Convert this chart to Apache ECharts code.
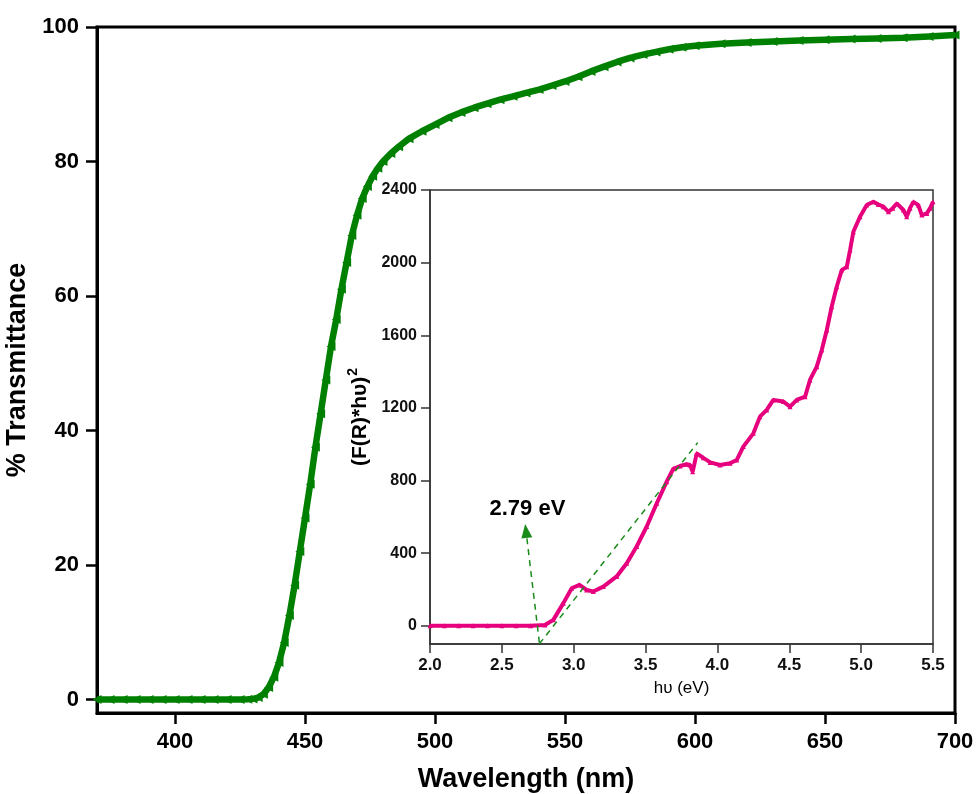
<!DOCTYPE html>
<html>
<head>
<meta charset="utf-8">
<script src="https://cdn.jsdelivr.net/npm/echarts@6/dist/echarts.min.js"></script>
<style>html,body{margin:0;padding:0;background:#fff}#c{width:976px;height:794px}</style>
</head>
<body>
<div id="c"></div>
<script>
// Main spectrum: wavelength (nm) vs % transmittance
const wavelength = [370,375,380,385,390,395,400,405,410,415,420,425,428,430,432,434,436,438,440,442,444,446,448,450,452,454,456,458,460,462,464,466,468,470,472,474,476,478,480,483,486,490,495,500,505,510,515,520,525,530,535,540,545,550,555,560,565,570,575,580,585,590,595,600,610,620,630,640,650,660,670,680,690,700];
const transmittance = [0,0,0,0,0,0,0,0,0,0,0,0,0.05,0.1,0.3,0.8,1.8,3.3,5.5,8.5,12.5,17,22,27,32,37.5,42.5,47.5,52.5,56.5,61,65,69,72,74.5,76.3,77.8,79,80,81.2,82.2,83.4,84.5,85.5,86.5,87.3,88,88.6,89.2,89.7,90.2,90.7,91.3,91.9,92.6,93.4,94.1,94.8,95.4,95.9,96.3,96.7,97.0,97.2,97.5,97.7,97.85,98,98.1,98.2,98.3,98.4,98.6,98.8];
const mainXTicks = [400,450,500,550,600,650,700];
const mainYTicks = [0,20,40,60,80,100];

// Inset: Tauc plot
const energy = [2.0,2.1,2.2,2.3,2.4,2.5,2.6,2.7,2.8,2.858,2.928,2.986,3.04,3.09,3.136,3.206,3.299,3.369,3.438,3.508,3.578,3.647,3.693,3.74,3.786,3.809,3.828,3.856,3.902,3.95,4.018,4.088,4.134,4.18,4.25,4.296,4.343,4.389,4.459,4.505,4.552,4.61,4.644,4.691,4.726,4.761,4.795,4.83,4.865,4.9,4.923,4.946,4.992,5.039,5.085,5.12,5.155,5.19,5.22,5.248,5.294,5.317,5.34,5.363,5.398,5.422,5.457,5.48,5.5];
const tauc = [0,0,0,0,0,0,0,0,5,33,125,207,226,198,189,216,272,345,437,547,675,794,865,880,890,886,849,950,925,900,886,895,913,987,1060,1152,1189,1244,1235,1207,1244,1262,1354,1427,1519,1629,1757,1867,1959,1977,2069,2170,2253,2317,2335,2320,2308,2280,2300,2326,2290,2253,2300,2335,2317,2262,2271,2300,2335];
const insetXTicks = [2.0,2.5,3.0,3.5,4.0,4.5,5.0,5.5];
const insetYTicks = [0,400,800,1200,1600,2000,2400];
const tangentX = [2.761, 3.863];
const tangentY = [-99, 1009];
const arrowFrom = [2.761, -92];
const arrowTo = [2.668, 523];
const annotText = '2.79 eV';
const annotPos = [2.678, 644];

const FONT = "Arial, 'Liberation Sans', sans-serif";
const chart = echarts.init(document.getElementById('c'));

chart.setOption({
  animation: false,
  backgroundColor: '#fff',
  textStyle: { fontFamily: FONT },
  grid: [
    { left: 97, right: 21, top: 27, bottom: 81, show: true, borderColor: '#000', borderWidth: 3, containLabel: false, outerBoundsMode: 'none' },
    { left: 430, right: 43, top: 190, bottom: 150, show: true, borderColor: '#333', borderWidth: 1.5, backgroundColor: '#fff', containLabel: false, outerBoundsMode: 'none' }
  ],
  xAxis: [
    {
      gridIndex: 0, type: 'value', min: 370, max: 700,
      name: 'Wavelength (nm)', nameLocation: 'middle', nameGap: 53,
      nameTextStyle: { fontSize: 27, fontWeight: 'bold', color: '#000', fontFamily: FONT },
      axisLine: { show: true, onZero: false, lineStyle: { color: '#000', width: 3 } },
      axisTick: { show: true, length: 11, inside: false, lineStyle: { color: '#000', width: 2.5 }, customValues: mainXTicks },
      axisLabel: { margin: 18, fontSize: 22, fontWeight: 'bold', color: '#000', fontFamily: FONT, customValues: mainXTicks },
      splitLine: { show: false }
    },
    {
      gridIndex: 1, type: 'value', min: 2, max: 5.5, interval: 0.5,
      name: 'hυ (eV)', nameLocation: 'middle', nameGap: 36,
      nameTextStyle: { fontSize: 17, color: '#000', fontFamily: FONT },
      axisLine: { show: true, onZero: false, lineStyle: { color: '#333', width: 1.5 } },
      axisTick: { show: true, length: 9, inside: false, lineStyle: { color: '#333', width: 1.5 }, customValues: insetXTicks },
      axisLabel: { margin: 13, fontSize: 17, fontWeight: 'bold', color: '#111', fontFamily: FONT, customValues: insetXTicks, formatter: v => Number(v).toFixed(1) },
      splitLine: { show: false }
    }
  ],
  yAxis: [
    {
      gridIndex: 0, type: 'value', min: -2, max: 100,
      name: '% Transmittance', nameLocation: 'middle', nameGap: 55,
      nameTextStyle: { fontSize: 27, fontWeight: 'bold', color: '#000', fontFamily: FONT },
      axisLine: { show: true, onZero: false, lineStyle: { color: '#000', width: 3 } },
      axisTick: { show: true, length: 11, inside: false, lineStyle: { color: '#000', width: 2.5 }, customValues: mainYTicks },
      axisLabel: { margin: 18, fontSize: 22, fontWeight: 'bold', color: '#000', fontFamily: FONT, customValues: mainYTicks },
      splitLine: { show: false }
    },
    {
      gridIndex: 1, type: 'value', min: -100, max: 2400,
      name: '{a|(F(R)*hυ)}{b|2}', nameLocation: 'middle', nameGap: 46,
      nameTextStyle: {
        fontFamily: FONT, color: '#000',
        rich: {
          a: { fontSize: 21, fontWeight: 'bold', fontFamily: FONT, color: '#000' },
          b: { fontSize: 14, fontWeight: 'bold', fontFamily: FONT, color: '#000', padding: [0, 0, 14, 1] }
        }
      },
      axisLine: { show: true, onZero: false, lineStyle: { color: '#333', width: 1.5 } },
      axisTick: { show: true, length: 9, inside: false, lineStyle: { color: '#333', width: 1.5 }, customValues: insetYTicks },
      axisLabel: { margin: 13, fontSize: 16, fontWeight: 'bold', color: '#111', fontFamily: FONT, customValues: insetYTicks, formatter: v => String(v) },
      splitLine: { show: false }
    }
  ],
  series: [
    {
      type: 'line', xAxisIndex: 0, yAxisIndex: 0,
      data: wavelength.map((w, i) => [w, transmittance[i]]),
      symbol: 'triangle', symbolSize: 9, symbolRotate: 90, showSymbol: true,
      lineStyle: { color: '#008000', width: 6.5 },
      itemStyle: { color: '#008000' },
      z: 3
    },
    {
      type: 'line', xAxisIndex: 1, yAxisIndex: 1,
      data: energy.map((e, i) => [e, tauc[i]]),
      symbol: 'triangle', symbolSize: 5, showSymbol: true,
      lineStyle: { color: '#e6007e', width: 4 },
      itemStyle: { color: '#e6007e' },
      z: 4
    },
    {
      type: 'line', xAxisIndex: 1, yAxisIndex: 1,
      data: tangentX.map((x, i) => [x, tangentY[i]]),
      showSymbol: false, symbol: 'none',
      lineStyle: { color: '#1a8a1a', width: 1.5, type: [6, 5] },
      z: 5
    },
    {
      type: 'scatter', xAxisIndex: 1, yAxisIndex: 1,
      data: [annotPos], symbolSize: 1,
      itemStyle: { opacity: 1, color: 'rgba(0,0,0,0)' },
      label: { show: true, position: 'inside', formatter: annotText, fontSize: 22, fontWeight: 'bold', color: '#000', opacity: 1, textBorderWidth: 0, fontFamily: FONT },
      markLine: {
        silent: true, symbol: ['none', 'triangle'], symbolSize: [11, 14],
        label: { show: false },
        lineStyle: { color: '#1a8a1a', width: 1.5, type: [6, 5] },
        data: [[{ coord: arrowFrom }, { coord: arrowTo }]]
      },
      z: 6
    }
  ]
});
</script>
</body>
</html>
